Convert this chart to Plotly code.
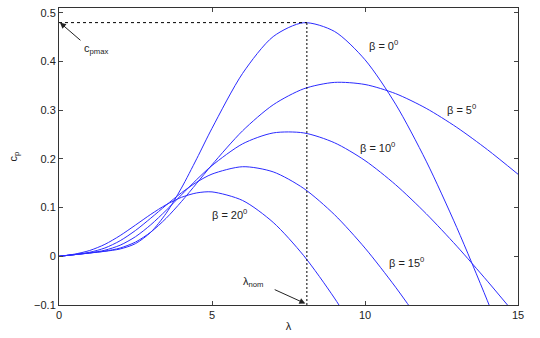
import plotly.graph_objects as go

lam = [0, 0.5, 1, 1.5, 2, 2.5, 3, 3.5, 4, 4.5, 5, 6, 7, 8, 9, 10, 11, 12, 13, 14, 15]
cp_b0 = [0, 0.0034, 0.0068, 0.0103, 0.0151, 0.0261, 0.0495, 0.0882, 0.1401, 0.2003, 0.2629,
         0.3757, 0.4513, 0.4798, 0.4620, 0.4037, 0.3125, 0.1954, 0.0590, -0.0913, -0.2511]
cp_b5 = [0, 0.0034, 0.0068, 0.0106, 0.0170, 0.0293, 0.0497, 0.0780, 0.1123, 0.1499, 0.1880,
         0.2578, 0.3112, 0.3441, 0.3572, 0.3529, 0.3341, 0.3039, 0.2648, 0.2191, 0.1686]
cp_b10 = [0, 0.0034, 0.0070, 0.0125, 0.0229, 0.0403, 0.0648, 0.0943, 0.1261, 0.1576, 0.1864,
          0.2310, 0.2534, 0.2534, 0.2333, 0.1967, 0.1470, 0.0875, 0.0208, -0.0510, -0.1259]
cp_b15 = [0, 0.0035, 0.0083, 0.0171, 0.0321, 0.0531, 0.0784, 0.1050, 0.1304, 0.1522, 0.1689,
          0.1840, 0.1734, 0.1393, 0.0857, 0.0169, -0.0634, -0.1518]
cp_b20 = [0, 0.0044, 0.0119, 0.0246, 0.0427, 0.0642, 0.0862, 0.1059, 0.1211, 0.1302, 0.1323,
          0.1147, 0.0696, 0.0011, -0.0857, -0.1861]

series = [cp_b0, cp_b5, cp_b10, cp_b15, cp_b20]
labels = ["β = 0<sup>0</sup>", "β = 5<sup>0</sup>", "β = 10<sup>0</sup>", "β = 15<sup>0</sup>", "β = 20<sup>0</sup>"]
label_pos = [(10.62, 0.433), (13.14, 0.303), (10.42, 0.224), (11.37, -0.012), (5.56, 0.087)]

lam_nom = 8.1
cp_max = 0.48

x_ticks = [0, 5, 10, 15]
y_ticks = [-0.1, 0, 0.1, 0.2, 0.3, 0.4, 0.5]

BLUE = "#2b2bff"
FONT = "Liberation Sans, Arial, sans-serif"

fig = go.Figure()
for ys in series:
    fig.add_trace(go.Scatter(x=lam[:len(ys)], y=ys, mode="lines",
                             line=dict(color=BLUE, width=1, shape="spline", smoothing=0.8),
                             showlegend=False, hoverinfo="skip"))

# dotted guide lines
fig.add_trace(go.Scatter(x=[0, lam_nom], y=[cp_max, cp_max], mode="lines",
                         line=dict(color="black", width=1, dash="3px,3px"),
                         showlegend=False, hoverinfo="skip"))
fig.add_trace(go.Scatter(x=[lam_nom, lam_nom], y=[-0.1, cp_max], mode="lines",
                         line=dict(color="black", width=1, dash="2px,2px"),
                         showlegend=False, hoverinfo="skip"))

annotations = []
for (lx, ly), t in zip(label_pos, labels):
    annotations.append(dict(x=lx, y=ly, text=t, showarrow=False,
                            font=dict(size=11, color="#222", family=FONT)))

# cpmax arrow
annotations.append(dict(x=0.03, y=cp_max, ax=0.75, ay=0.441, axref="x", ayref="y",
                        text="", showarrow=True, arrowhead=2, arrowsize=1.2,
                        arrowwidth=1, arrowcolor="#222"))
annotations.append(dict(x=0.75, y=0.425, text="c<sub>pmax</sub>", showarrow=False,
                        xanchor="left", font=dict(size=11, color="#222", family=FONT)))
# lambda nom arrow
annotations.append(dict(x=lam_nom - 0.05, y=-0.097, ax=7.0, ay=-0.067, axref="x", ayref="y",
                        text="", showarrow=True, arrowhead=2, arrowsize=1.2,
                        arrowwidth=1, arrowcolor="#222"))
annotations.append(dict(x=5.95, y=-0.052, text="λ<sub>nom</sub>", showarrow=False,
                        xanchor="left", font=dict(size=11, color="#222", family=FONT)))

fig.update_layout(
    width=540, height=338,
    margin=dict(l=59, r=22, t=7, b=31),
    paper_bgcolor="white", plot_bgcolor="white",
    font=dict(family=FONT, size=11, color="#222"),
    annotations=annotations,
    xaxis=dict(range=[0, 15], tickvals=x_ticks, ticks="inside", ticklen=4,
               showline=True, linecolor="#333", linewidth=1, mirror="ticks",
               showgrid=False, zeroline=False,
               title=dict(text="λ", standoff=2, font=dict(size=11))),
    yaxis=dict(range=[-0.1, 0.51], tickvals=y_ticks, ticks="inside", ticklen=4,
               showline=True, linecolor="#333", linewidth=1, mirror="ticks",
               showgrid=False, zeroline=False,
               title=dict(text="c<sub>p</sub>", standoff=14, font=dict(size=11))),
)

fig.write_html("out.html")
